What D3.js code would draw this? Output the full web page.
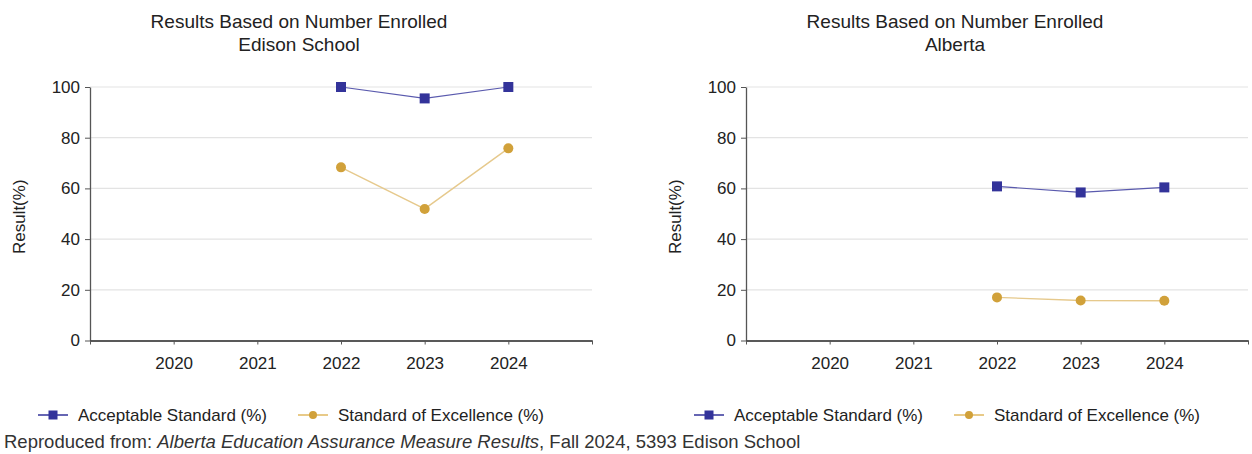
<!DOCTYPE html>
<html><head><meta charset="utf-8">
<script src="https://cdn.jsdelivr.net/npm/d3@7"></script>
<style>
html,body{margin:0;padding:0;background:#fff;}
svg{display:block;font-family:"Liberation Sans",Arial,sans-serif;}
</style></head>
<body>
<svg id="chart" width="1252" height="454"></svg>
<script>
const years = [2020, 2021, 2022, 2023, 2024];
const dataYears = [2022, 2023, 2024];
const yTicks = [0, 20, 40, 60, 80, 100];
const edisonAcceptable = [100, 95.5, 100];
const edisonExcellence = [68.3, 51.9, 75.8];
const albertaAcceptable = [60.8, 58.4, 60.4];
const albertaExcellence = [17.0, 15.8, 15.7];
const titles = ["Edison School", "Alberta"];
const seriesNames = ["Acceptable Standard (%)", "Standard of Excellence (%)"];

const svg = d3.select("#chart");
const BLUE = "#33339a", GOLD = "#d1a13a", BLUE_LINE = "#5a5aae", GOLD_LINE = "#e6c98c";
const FS = 17;

function panel(x0, name, acc, exc) {
  const left = x0 + 90, right = x0 + 592, top = 87, bottom = 340.5;
  const x = d3.scaleLinear().domain([2019, 2025]).range([left, right]);
  const y = d3.scaleLinear().domain([0, 100]).range([bottom, top]);
  const g = svg.append("g");
  const cx = x0 + 299;
  g.append("text").attr("x", cx).attr("y", 27.5).attr("text-anchor", "middle")
    .attr("font-size", 19).attr("fill", "#222").text("Results Based on Number Enrolled");
  g.append("text").attr("x", cx).attr("y", 51).attr("text-anchor", "middle")
    .attr("font-size", 19).attr("fill", "#222").text(name);
  // grid
  g.append("g").selectAll("line").data(yTicks.filter(d => d > 0)).join("line")
    .attr("x1", left).attr("x2", right).attr("y1", d => y(d)).attr("y2", d => y(d))
    .attr("stroke", "#e3e3e3").attr("stroke-width", 1.2);
  // y axis
  const ya = g.append("g").attr("transform", `translate(${left},0)`)
    .call(d3.axisLeft(y).tickValues(yTicks).tickSize(5).tickSizeOuter(0).tickPadding(5));
  ya.select(".domain").attr("stroke", "#555").attr("stroke-width", 1.3);
  ya.selectAll(".tick line").attr("stroke", "#555");
  ya.selectAll("text").attr("font-size", FS).attr("fill", "#222").attr("font-family", "Liberation Sans, Arial, sans-serif");
  // x axis
  const xa = g.append("g").attr("transform", `translate(0,${bottom})`)
    .call(d3.axisBottom(x).tickValues([2019, ...years, 2025]).tickSize(4).tickSizeOuter(0).tickPadding(12)
      .tickFormat(d => years.includes(d) ? String(d) : ""));
  xa.select(".domain").attr("stroke", "#222").attr("stroke-width", 1.6);
  xa.selectAll(".tick line").attr("stroke", "#555");
  xa.selectAll("text").attr("font-size", FS).attr("fill", "#222").attr("font-family", "Liberation Sans, Arial, sans-serif");
  // y label
  g.append("text").attr("transform", `translate(${x0 + 25},${(top + bottom) / 2 + 3}) rotate(-90)`)
    .attr("text-anchor", "middle").attr("font-size", FS).attr("fill", "#222").text("Result(%)");
  // series
  const line = d3.line().x((d, i) => x(dataYears[i])).y(d => y(d));
  g.append("path").datum(acc).attr("d", line).attr("fill", "none").attr("stroke", BLUE_LINE).attr("stroke-width", 1.2);
  g.append("path").datum(exc).attr("d", line).attr("fill", "none").attr("stroke", GOLD_LINE).attr("stroke-width", 1.4);
  g.append("g").selectAll("rect").data(acc).join("rect")
    .attr("x", (d, i) => x(dataYears[i]) - 5).attr("y", d => y(d) - 5)
    .attr("width", 10).attr("height", 10).attr("fill", BLUE);
  g.append("g").selectAll("circle").data(exc).join("circle")
    .attr("cx", (d, i) => x(dataYears[i])).attr("cy", d => y(d)).attr("r", 5).attr("fill", GOLD);
  // legend
  const ly = 415;
  const l1 = x0 + 38;
  g.append("line").attr("x1", l1).attr("x2", l1 + 30).attr("y1", ly).attr("y2", ly).attr("stroke", BLUE).attr("stroke-width", 1.5);
  g.append("rect").attr("x", l1 + 10.5).attr("y", ly - 4.5).attr("width", 9).attr("height", 9).attr("fill", BLUE);
  g.append("text").attr("x", l1 + 40).attr("y", ly + 6).attr("font-size", FS).attr("fill", "#222").text(seriesNames[0]);
  const l2 = x0 + 298;
  g.append("line").attr("x1", l2).attr("x2", l2 + 30).attr("y1", ly).attr("y2", ly).attr("stroke", "#e0b960").attr("stroke-width", 1.5);
  g.append("circle").attr("cx", l2 + 15).attr("cy", ly).attr("r", 4).attr("fill", GOLD);
  g.append("text").attr("x", l2 + 40).attr("y", ly + 6).attr("font-size", FS).attr("fill", "#222").text(seriesNames[1]);
}

panel(0, titles[0], edisonAcceptable, edisonExcellence);
panel(656, titles[1], albertaAcceptable, albertaExcellence);

const foot = svg.append("text").attr("x", 4).attr("y", 448).attr("font-size", 18.5).attr("fill", "#333");
foot.append("tspan").text("Reproduced from: ");
foot.append("tspan").attr("font-style", "italic").text("Alberta Education Assurance Measure Results");
foot.append("tspan").text(", Fall 2024, 5393 Edison School");
</script>
</body></html>
